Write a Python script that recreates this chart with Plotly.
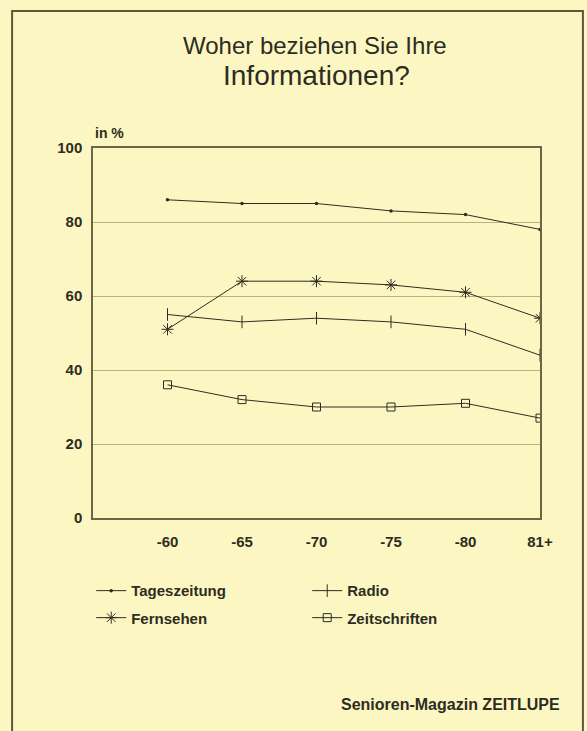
import plotly.graph_objects as go

categories = ["-60", "-65", "-70", "-75", "-80", "81+"]
tageszeitung = [86, 85, 85, 83, 82, 78]
fernsehen = [51, 64, 64, 63, 61, 54]
radio = [55, 53, 54, 53, 51, 44]
zeitschriften = [36, 32, 30, 30, 31, 27]
y_ticks = [0, 20, 40, 60, 80, 100]

BG = "#fcf7c2"
INK = "#2e2c22"
AX = "#6e6546"
FONT = "Liberation Sans"

fig = go.Figure()
series = [
    ("Tageszeitung", tageszeitung, "legend", dict(symbol="circle", size=3.5, color=INK)),
    ("Radio", radio, "legend", dict(symbol="line-ns-open", size=9, color=INK, line=dict(width=1, color=INK))),
    ("Fernsehen", fernsehen, "legend2", dict(symbol="asterisk-open", size=10, color=INK, line=dict(width=1, color=INK))),
    ("Zeitschriften", zeitschriften, "legend2", dict(symbol="square-open", size=8, color=INK, line=dict(width=1, color=INK))),
]
for name, vals, leg, marker in series:
    fig.add_trace(go.Scatter(
        x=categories, y=vals, name=name, mode="lines+markers", legend=leg,
        line=dict(color=INK, width=1), marker=marker,
    ))

legend_common = dict(
    orientation="h", xanchor="left", yanchor="middle",
    entrywidth=171, entrywidthmode="pixels", itemwidth=30,
    font=dict(family=FONT, size=15, color=INK, weight="bold"),
    bgcolor="rgba(0,0,0,0)",
)

fig.update_layout(
    width=587, height=731,
    paper_bgcolor=BG, plot_bgcolor=BG,
    margin=dict(l=93, r=47, t=148, b=213),
    font=dict(family=FONT, color=INK),
    showlegend=True,
    legend=dict(x=-0.004, y=-0.197, **legend_common),
    legend2=dict(x=-0.004, y=-0.27, **legend_common),
    xaxis=dict(
        type="category", range=[-1, 5], showgrid=False, zeroline=False,
        showline=True, linecolor=AX, linewidth=1.5, mirror=True,
        ticks="", tickfont=dict(family=FONT, size=15, color=INK, weight="bold"),
        ticklabelstandoff=9,
    ),
    yaxis=dict(
        range=[0, 100], tickvals=y_ticks, showgrid=True, gridcolor="#b9b185",
        gridwidth=1, zeroline=False, showline=True, linecolor=AX, linewidth=1.5,
        mirror=True, ticks="", tickfont=dict(family=FONT, size=15, color=INK, weight="bold"),
        ticklabelstandoff=6,
    ),
    shapes=[dict(type="rect", xref="paper", yref="paper",
                 x0=-0.181, x1=1.096, y0=-0.62, y1=1.370,
                 line=dict(color="#5e573a", width=2), fillcolor="rgba(0,0,0,0)", layer="below")],
    annotations=[
        dict(text="Woher beziehen Sie Ihre", xref="paper", yref="paper", x=0.497, y=1.278,
             yanchor="middle", showarrow=False, font=dict(family=FONT, size=24, color=INK)),
        dict(text="Informationen?", xref="paper", yref="paper", x=0.499, y=1.195,
             yanchor="middle", showarrow=False, font=dict(family=FONT, size=28, color=INK)),
        dict(text="in %", xref="paper", yref="paper", x=0.0, y=1.041, xanchor="left", yanchor="middle",
             showarrow=False, font=dict(family=FONT, size=14, color=INK, weight="bold")),
        dict(text="Senioren-Magazin ZEITLUPE", xref="paper", yref="paper", x=1.049, y=-0.505,
             xanchor="right", yanchor="middle", showarrow=False,
             font=dict(family=FONT, size=16, color=INK, weight="bold")),
    ],
)

fig.write_html(
    "out.html",
    config={"displayModeBar": False},
    post_script="document.body.style.margin='0';document.body.style.background='#fcf7c2';",
)
